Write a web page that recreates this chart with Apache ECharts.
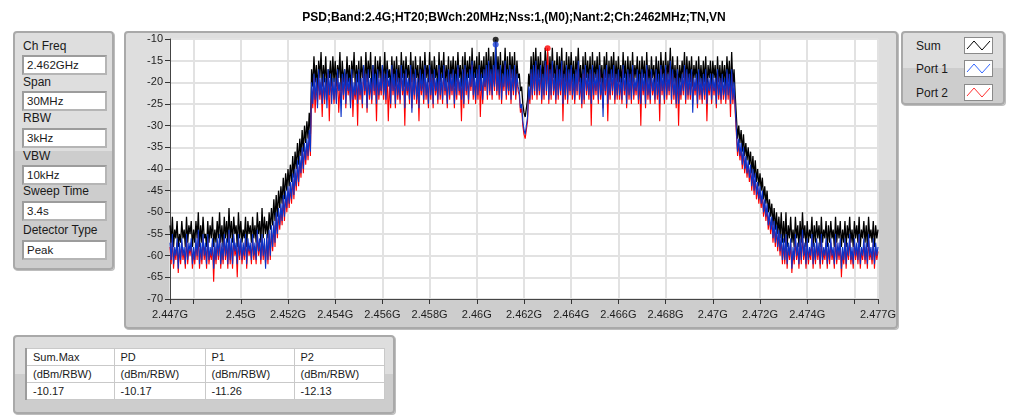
<!DOCTYPE html>
<html>
<head>
<meta charset="utf-8">
<script src="https://cdn.jsdelivr.net/npm/echarts@6/dist/echarts.min.js"></script>
<style>
  body { margin: 0; width: 1018px; height: 417px; background: #fff; overflow: hidden;
         font-family: 'Liberation Sans', Arial, sans-serif; color: #1a1a1a; position: relative; }
  .panel { position: absolute; box-sizing: border-box; border: 2px solid #a9a9a9; border-radius: 4px;
           background: linear-gradient(#dedede 0, #dedede 50%, #cdcdcd 50%, #cdcdcd 100%);
           box-shadow: 1px 1px 0 #bdbdbd; }
  #chart { position: absolute; left: 0; top: 0; width: 1018px; height: 417px; z-index: 2; }
  .lbl { position: absolute; left: 8px; font-size: 12px; }
  .box { position: absolute; left: 7px; width: 85px; height: 20px; box-sizing: border-box; background: #fff;
         border: 2px solid #b5b5b5; border-top-color: #9c9c9c; border-left-color: #9c9c9c;
         font-size: 11.5px; line-height: 16px; padding-left: 3px; }
  .leg { position: absolute; left: 13px; font-size: 12px; }
  .icon { position: absolute; left: 61px; width: 29px; height: 17px; box-sizing: border-box;
          background: #fff; border: 1px solid #8a8a8a; }
  table { position: absolute; left: 10px; top: 11px; border-collapse: collapse; background: #fff;
          border-left: 2px solid #9c9c9c; border-top: 1px solid #b0b0b0; font-size: 11px; }
  td { border: 1px solid #c9c9c9; height: 17px; padding: 0 0 0 6px; box-sizing: border-box; }
</style>
</head>
<body>
<div class="panel" style="left:124px;top:31px;width:774px;height:298px;"></div>

<div class="panel" style="left:13px;top:31px;width:101px;height:239px;">
  <div class="lbl" style="top:6px">Ch Freq</div>
  <div class="box" style="top:22px">2.462GHz</div>
  <div class="lbl" style="top:42px">Span</div>
  <div class="box" style="top:58px">30MHz</div>
  <div class="lbl" style="top:78px">RBW</div>
  <div class="box" style="top:95px">3kHz</div>
  <div class="lbl" style="top:116px">VBW</div>
  <div class="box" style="top:132px">10kHz</div>
  <div class="lbl" style="top:151px">Sweep Time</div>
  <div class="box" style="top:168px">3.4s</div>
  <div class="lbl" style="top:190px">Detector Type</div>
  <div class="box" style="top:207px">Peak</div>
</div>

<div class="panel" style="left:901px;top:31px;width:104px;height:74px;">
  <div class="leg" style="top:6px">Sum</div>
  <div class="icon" style="top:4px"><svg width="27" height="15"><polyline points="2,11 9,3 17,12 25,3" fill="none" stroke="#000" stroke-width="1"/></svg></div>
  <div class="leg" style="top:29px">Port 1</div>
  <div class="icon" style="top:27px"><svg width="27" height="15"><polyline points="2,11 9,3 17,12 25,3" fill="none" stroke="#3366ff" stroke-width="1"/></svg></div>
  <div class="leg" style="top:53px">Port 2</div>
  <div class="icon" style="top:51px"><svg width="27" height="15"><polyline points="2,11 9,3 17,12 25,3" fill="none" stroke="#ff3030" stroke-width="1"/></svg></div>
</div>

<div class="panel" style="left:13px;top:335px;width:382px;height:79px;">
  <table id="result"></table>
</div>

<div id="chart"></div>

<script>
// frequency grid: 2.447 GHz .. 2.477 GHz, 0.05 MHz step (601 points), one row = 0.5 MHz
const freqStart = 2.447;
const freqStep = 0.00005;

// Sum trace (dBm/RBW)
const sumTrace = [
  -53,-57,-51,-58,-54,-56,-52,-58,-55,-57,
  -52,-56,-54,-58,-51,-57,-53,-55,-52,-58,
  -54,-57,-52,-56,-50,-58,-53,-57,-51,-56,
  -55,-58,-52,-57,-53,-56,-51,-58,-54,-57,
  -52,-56,-50,-57,-53,-58,-51,-56,-52,-57,
  -49,-56,-52,-57,-51,-55,-53,-58,-50,-56,
  -52,-57,-54,-56,-51,-58,-52,-55,-53,-57,
  -51,-56,-53,-57,-50,-55,-52,-57,-49,-56,
  -51,-55,-52,-56,-50,-54,-49,-53,-47,-52,
  -46,-51,-45,-49,-44,-48,-42,-47,-41,-45,
  -40,-44,-39,-43,-37,-42,-36,-40,-34,-39,
  -33,-37,-31,-36,-30,-34,-29,-33,-27,-32,
  -17,-21,-14,-20,-16,-22,-15,-19,-13,-21,
  -16,-20,-14,-22,-17,-19,-15,-21,-14,-20,
  -15,-21,-16,-19,-13,-22,-15,-20,-17,-21,
  -14,-20,-16,-22,-15,-19,-13,-21,-16,-20,
  -15,-22,-14,-19,-16,-21,-13,-20,-15,-19,
  -13,-21,-16,-20,-14,-22,-15,-19,-14,-21,
  -16,-20,-13,-21,-15,-19,-17,-22,-14,-20,
  -15,-21,-14,-20,-16,-22,-13,-19,-15,-21,
  -14,-19,-16,-21,-13,-20,-15,-22,-14,-19,
  -16,-22,-14,-20,-15,-21,-13,-19,-16,-20,
  -13,-20,-15,-21,-14,-19,-16,-22,-13,-20,
  -15,-19,-13,-21,-16,-20,-14,-22,-15,-19,
  -14,-21,-15,-20,-13,-19,-16,-21,-14,-22,
  -13,-20,-15,-19,-14,-21,-12,-20,-15,-19,
  -14,-22,-13,-20,-15,-19,-14,-21,-13,-20,
  -12,-19,-14,-21,-13,-20,-10.17,-19,-14,-20,
  -13,-21,-15,-19,-12,-20,-14,-22,-13,-19,
  -14,-20,-13,-21,-15,-19,-18,-22,-21,-25,
  -27,-28,-26,-24,-18,-21,-14,-20,-13,-19,
  -12,-20,-14,-19,-13,-21,-15,-20,-12,-19,
  -13,-21,-14,-20,-12,-19,-15,-21,-13,-20,
  -14,-19,-12,-22,-15,-20,-13,-21,-14,-19,
  -13,-20,-15,-21,-14,-19,-12,-20,-16,-22,
  -14,-21,-13,-19,-15,-20,-14,-22,-13,-20,
  -15,-19,-14,-21,-13,-20,-16,-22,-14,-19,
  -13,-22,-15,-20,-14,-19,-13,-21,-15,-20,
  -14,-20,-16,-21,-13,-19,-15,-22,-14,-20,
  -15,-21,-13,-20,-16,-19,-14,-21,-15,-22,
  -14,-19,-15,-22,-13,-20,-16,-21,-14,-19,
  -16,-21,-14,-20,-15,-22,-13,-19,-15,-21,
  -13,-20,-15,-19,-12,-21,-14,-20,-16,-22,
  -14,-22,-16,-20,-15,-19,-13,-21,-14,-20,
  -15,-20,-14,-21,-16,-19,-15,-22,-14,-20,
  -16,-21,-15,-20,-14,-22,-16,-19,-15,-21,
  -15,-19,-16,-22,-14,-20,-16,-21,-15,-20,
  -16,-21,-14,-20,-15,-22,-13,-21,-17,-23,
  -28,-33,-30,-34,-31,-36,-32,-37,-34,-38,
  -35,-39,-36,-41,-37,-42,-38,-43,-40,-44,
  -41,-45,-42,-47,-44,-48,-45,-50,-47,-51,
  -48,-53,-49,-54,-50,-55,-51,-56,-50,-57,
  -52,-57,-50,-58,-53,-56,-51,-57,-54,-58,
  -51,-56,-53,-58,-52,-57,-50,-56,-53,-58,
  -52,-57,-54,-56,-51,-58,-53,-57,-52,-56,
  -53,-58,-51,-57,-54,-56,-52,-58,-53,-57,
  -52,-56,-54,-58,-51,-57,-53,-56,-52,-58,
  -54,-57,-52,-58,-53,-56,-51,-57,-54,-58,
  -52,-56,-53,-57,-51,-58,-54,-56,-52,-57,
  -53,-58,-51,-56,-54,-57,-52,-58,-53,-56,
  -54
];

// Port 1 trace
const port1Trace = [
  -57,-61,-55,-62,-58,-60,-56,-63,-57,-61,
  -56,-60,-58,-62,-55,-61,-57,-59,-56,-62,
  -58,-61,-56,-60,-54,-62,-57,-61,-55,-60,
  -57,-62,-55,-61,-58,-60,-56,-63,-57,-61,
  -56,-60,-55,-62,-57,-61,-55,-60,-56,-62,
  -54,-61,-56,-62,-55,-59,-57,-62,-55,-60,
  -56,-61,-57,-60,-55,-62,-56,-59,-57,-61,
  -55,-60,-57,-61,-54,-59,-56,-61,-55,-60,
  -56,-63,-55,-61,-54,-60,-53,-58,-52,-57,
  -50,-55,-49,-53,-48,-52,-46,-51,-45,-49,
  -44,-48,-43,-47,-41,-46,-40,-44,-38,-43,
  -37,-41,-35,-40,-34,-38,-33,-37,-31,-36,
  -20,-25,-18,-24,-19,-26,-17,-23,-19,-25,
  -18,-24,-19,-26,-17,-23,-18,-25,-19,-24,
  -19,-25,-17,-22,-20,-28,-18,-23,-17,-25,
  -18,-22,-19,-26,-17,-24,-20,-23,-18,-25,
  -17,-23,-19,-25,-16,-22,-18,-26,-17,-23,
  -19,-24,-16,-22,-18,-25,-17,-23,-19,-22,
  -16,-23,-18,-24,-17,-21,-19,-25,-16,-22,
  -18,-25,-17,-23,-19,-24,-16,-22,-18,-26,
  -17,-22,-19,-24,-16,-27,-18,-23,-17,-24,
  -19,-26,-17,-22,-18,-24,-16,-23,-19,-25,
  -16,-23,-18,-25,-17,-22,-19,-24,-16,-23,
  -18,-24,-16,-22,-19,-25,-17,-23,-18,-22,
  -17,-25,-18,-23,-16,-22,-19,-24,-17,-25,
  -16,-22,-18,-24,-17,-21,-15,-23,-18,-24,
  -17,-23,-16,-22,-18,-24,-17,-21,-16,-23,
  -15,-22,-17,-23,-16,-21,-11.26,-22,-17,-23,
  -16,-24,-18,-21,-15,-23,-17,-22,-16,-24,
  -17,-22,-16,-23,-18,-21,-22,-26,-25,-29,
  -31,-32,-30,-28,-21,-24,-17,-23,-16,-22,
  -15,-23,-17,-22,-16,-24,-18,-23,-15,-22,
  -16,-24,-17,-23,-15,-22,-18,-24,-16,-23,
  -17,-22,-15,-25,-18,-23,-16,-24,-17,-22,
  -16,-23,-18,-24,-17,-22,-15,-23,-19,-25,
  -17,-24,-16,-22,-18,-23,-17,-25,-16,-23,
  -18,-22,-17,-24,-16,-23,-19,-28,-17,-22,
  -16,-25,-18,-23,-17,-22,-16,-24,-18,-23,
  -17,-23,-19,-24,-16,-22,-18,-25,-17,-23,
  -18,-24,-16,-23,-19,-22,-17,-24,-18,-25,
  -17,-22,-18,-25,-16,-23,-19,-24,-17,-22,
  -19,-24,-17,-23,-18,-25,-16,-22,-18,-24,
  -16,-23,-18,-22,-15,-24,-17,-23,-19,-25,
  -17,-25,-19,-23,-18,-22,-16,-24,-17,-23,
  -18,-23,-17,-27,-19,-22,-18,-25,-17,-23,
  -19,-24,-18,-23,-17,-25,-19,-22,-18,-24,
  -18,-22,-19,-25,-17,-23,-19,-24,-18,-23,
  -19,-24,-17,-23,-18,-25,-17,-24,-20,-26,
  -31,-36,-33,-37,-34,-39,-35,-40,-37,-41,
  -38,-42,-39,-44,-40,-45,-41,-46,-43,-47,
  -44,-48,-45,-50,-47,-51,-48,-53,-50,-54,
  -51,-56,-52,-57,-53,-58,-54,-59,-55,-61,
  -56,-61,-55,-62,-57,-60,-56,-63,-58,-61,
  -55,-60,-57,-62,-56,-61,-54,-60,-57,-62,
  -56,-61,-58,-60,-55,-62,-57,-61,-56,-60,
  -57,-62,-55,-61,-58,-60,-56,-62,-57,-61,
  -56,-60,-58,-62,-55,-61,-57,-60,-56,-63,
  -58,-61,-56,-62,-57,-60,-55,-61,-58,-62,
  -56,-60,-57,-61,-55,-62,-58,-60,-56,-61,
  -57,-62,-55,-60,-58,-61,-56,-62,-57,-60,
  -58
];

// Port 2 trace
const port2Trace = [
  -58,-62,-56,-63,-59,-61,-57,-64,-58,-62,
  -57,-61,-59,-63,-56,-62,-58,-60,-57,-63,
  -59,-62,-57,-61,-55,-63,-58,-62,-56,-61,
  -58,-63,-56,-62,-59,-61,-57,-66,-58,-62,
  -57,-61,-56,-63,-58,-62,-56,-61,-57,-63,
  -55,-62,-57,-63,-56,-60,-58,-65,-56,-61,
  -57,-62,-58,-61,-56,-63,-57,-60,-58,-62,
  -56,-61,-58,-62,-55,-60,-57,-62,-56,-61,
  -57,-62,-56,-62,-55,-61,-54,-59,-53,-58,
  -51,-56,-50,-54,-49,-53,-47,-52,-46,-50,
  -45,-49,-44,-48,-42,-47,-41,-45,-39,-44,
  -38,-42,-36,-41,-35,-39,-34,-38,-32,-37,
  -21,-26,-19,-27,-20,-25,-18,-24,-20,-28,
  -19,-25,-20,-24,-18,-29,-19,-23,-20,-25,
  -20,-24,-18,-27,-21,-25,-19,-24,-18,-26,
  -19,-23,-20,-25,-18,-28,-21,-24,-19,-30,
  -18,-24,-20,-26,-17,-23,-19,-27,-18,-24,
  -20,-25,-17,-23,-19,-29,-18,-24,-20,-23,
  -17,-24,-19,-25,-18,-29,-20,-26,-17,-23,
  -19,-26,-18,-24,-20,-25,-17,-23,-19,-30,
  -18,-23,-20,-25,-17,-26,-19,-24,-18,-25,
  -20,-29,-18,-23,-19,-25,-17,-24,-20,-26,
  -17,-24,-19,-26,-18,-23,-20,-25,-17,-24,
  -19,-25,-17,-23,-20,-26,-18,-24,-19,-23,
  -18,-26,-19,-24,-17,-23,-20,-29,-18,-26,
  -17,-23,-19,-25,-18,-22,-16,-24,-19,-25,
  -18,-24,-17,-28,-19,-25,-18,-22,-17,-24,
  -16,-23,-18,-24,-17,-22,-16,-23,-18,-24,
  -17,-25,-19,-22,-16,-24,-18,-23,-17,-25,
  -18,-23,-17,-24,-19,-22,-23,-27,-26,-30,
  -32,-33,-31,-29,-22,-25,-18,-24,-17,-23,
  -16,-24,-18,-23,-17,-25,-19,-24,-16,-23,
  -12.13,-25,-18,-24,-16,-23,-19,-25,-17,-24,
  -18,-23,-16,-29,-19,-24,-17,-25,-18,-23,
  -17,-24,-19,-25,-18,-23,-16,-24,-20,-26,
  -18,-25,-17,-23,-19,-24,-18,-30,-17,-24,
  -19,-23,-18,-25,-17,-24,-20,-26,-18,-23,
  -17,-29,-19,-24,-18,-23,-17,-25,-19,-24,
  -18,-24,-20,-25,-17,-23,-19,-26,-18,-24,
  -19,-25,-17,-24,-20,-23,-18,-25,-19,-30,
  -18,-23,-19,-26,-17,-24,-20,-25,-18,-23,
  -20,-25,-18,-24,-19,-29,-17,-23,-19,-25,
  -17,-24,-19,-23,-16,-25,-18,-24,-20,-26,
  -18,-30,-20,-24,-19,-23,-17,-25,-18,-24,
  -19,-24,-18,-25,-20,-23,-19,-26,-18,-24,
  -20,-25,-19,-24,-18,-29,-20,-23,-19,-25,
  -19,-23,-20,-26,-18,-24,-20,-25,-19,-24,
  -20,-25,-18,-24,-19,-28,-18,-25,-21,-27,
  -32,-37,-34,-38,-35,-40,-36,-41,-38,-42,
  -39,-43,-40,-45,-41,-46,-42,-47,-44,-48,
  -45,-49,-46,-51,-48,-52,-49,-54,-51,-55,
  -52,-57,-53,-58,-54,-59,-55,-60,-56,-62,
  -57,-62,-56,-63,-58,-61,-57,-64,-59,-62,
  -56,-61,-58,-63,-57,-62,-55,-61,-58,-63,
  -57,-62,-59,-61,-56,-63,-58,-62,-57,-61,
  -58,-63,-56,-62,-59,-61,-57,-63,-58,-62,
  -57,-61,-59,-63,-56,-62,-58,-61,-57,-65,
  -59,-62,-57,-63,-58,-61,-56,-62,-59,-63,
  -57,-61,-58,-62,-56,-63,-59,-61,-57,-62,
  -58,-63,-56,-61,-59,-62,-57,-63,-58,-61,
  -59
];

const xTickValues = [2.447, 2.448, 2.450, 2.452, 2.454, 2.456, 2.458, 2.460, 2.462,
  2.464, 2.466, 2.468, 2.470, 2.472, 2.474, 2.476, 2.477];
const xLabelValues = [2.447, 2.450, 2.452, 2.454, 2.456, 2.458, 2.460, 2.462,
  2.464, 2.466, 2.468, 2.470, 2.472, 2.474, 2.477];

const tableHeaders = ['Sum.Max', 'PD', 'P1', 'P2'];
const tableUnits = ['(dBm/RBW)', '(dBm/RBW)', '(dBm/RBW)', '(dBm/RBW)'];
const tableValues = ['-10.17', '-10.17', '-11.26', '-12.13'];

const colWidths = [88, 91, 89, 90];
const tbl = document.getElementById('result');
[tableHeaders, tableUnits, tableValues].forEach(row => {
  const tr = document.createElement('tr');
  row.forEach((txt, i) => {
    const td = document.createElement('td');
    td.style.width = colWidths[i] + 'px';
    td.textContent = txt;
    tr.appendChild(td);
  });
  tbl.appendChild(tr);
});

const toPairs = arr => arr.map((v, i) => [+(freqStart + i * freqStep).toFixed(5), v]);
const maxPoint = arr => {
  let k = 0;
  arr.forEach((v, i) => { if (v > arr[k]) k = i; });
  return [+(freqStart + k * freqStep).toFixed(5), arr[k]];
};

const axisFont = { fontFamily: 'Liberation Sans', fontSize: 11, color: '#1e1e1e' };

const chart = echarts.init(document.getElementById('chart'), null, { renderer: 'canvas' });
chart.setOption({
  animation: false,
  title: {
    text: 'PSD;Band:2.4G;HT20;BWch:20MHz;Nss:1,(M0);Nant:2;Ch:2462MHz;TN,VN',
    left: 509, top: 7, textAlign: 'center',
    textStyle: { fontFamily: 'Liberation Sans', fontSize: 12, fontWeight: 'bold', color: '#000' }
  },
  grid: { left: 170, right: 140, top: 39, bottom: 118, show: true, backgroundColor: '#fff', borderWidth: 0 },
  xAxis: {
    type: 'value', min: 2.447, max: 2.477,
    axisLine: { lineStyle: { color: '#444', width: 1 } },
    axisTick: { length: 5, lineStyle: { color: '#333' }, customValues: xTickValues },
    axisLabel: {
      ...axisFont, margin: 10, customValues: xLabelValues,
      formatter: v => parseFloat(v.toFixed(3)) + 'G'
    },
    splitLine: { show: true, lineStyle: { color: '#e2e2e2', width: 2 } }
  },
  yAxis: {
    type: 'value', min: -70, max: -10, interval: 5,
    axisLine: { show: true, lineStyle: { color: '#444', width: 1 } },
    axisTick: { show: true, length: 5, lineStyle: { color: '#333' } },
    axisLabel: { ...axisFont, margin: 7 },
    splitLine: { show: true, lineStyle: { color: '#e2e2e2', width: 2 } }
  },
  series: [
    { name: 'Sum', type: 'line', data: toPairs(sumTrace), showSymbol: false, sampling: null,
      lineStyle: { color: '#000', width: 1.3 }, z: 2 },
    { name: 'Port 2', type: 'line', data: toPairs(port2Trace), showSymbol: false,
      lineStyle: { color: '#ff0000', width: 1.1 }, z: 3 },
    { name: 'Port 1', type: 'line', data: toPairs(port1Trace), showSymbol: false,
      lineStyle: { color: '#0a32c8', width: 1.1 }, z: 4 },
    { name: 'Max', type: 'scatter', symbolSize: 6, z: 6, clip: false,
      data: [
        { value: maxPoint(sumTrace), itemStyle: { color: '#000' } },
        { value: maxPoint(port1Trace), itemStyle: { color: '#1f44d8' } },
        { value: maxPoint(port2Trace), itemStyle: { color: '#ff0000' } }
      ] }
  ]
});
</script>
</body>
</html>
